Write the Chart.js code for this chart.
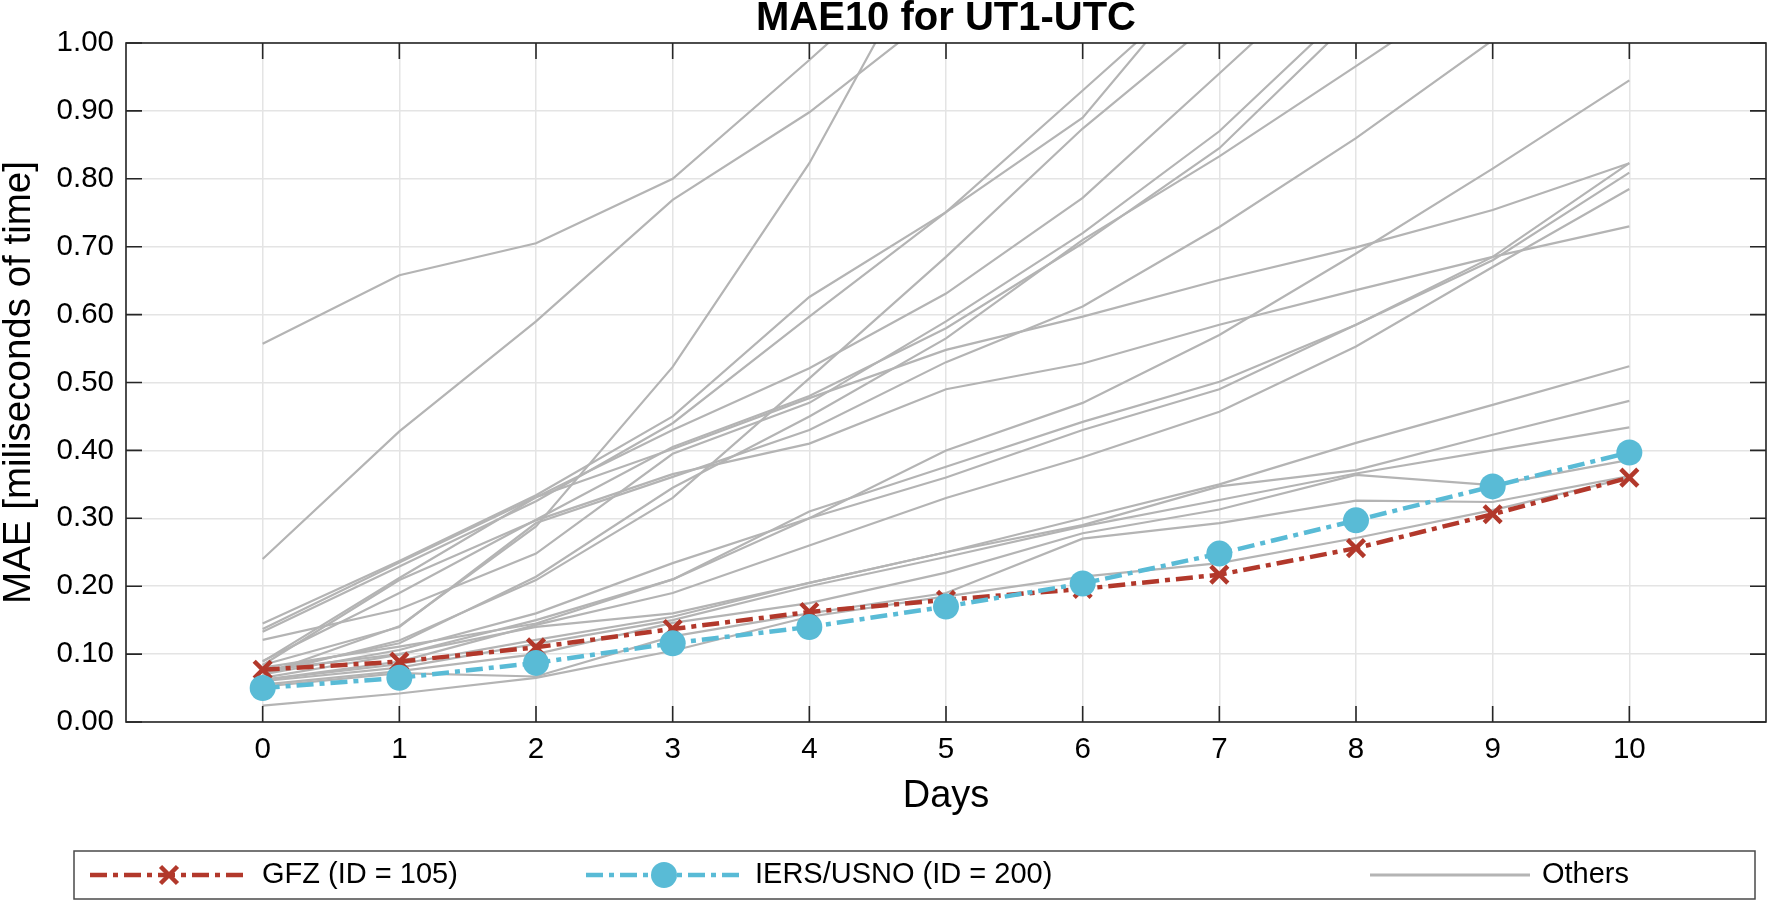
<!DOCTYPE html>
<html lang="en">
<head>
<meta charset="UTF-8">
<title>MAE10 for UT1-UTC</title>
<style>
  body { margin: 0; background: #ffffff; }
  #wrap { width: 1768px; height: 902px; }
</style>
<script src="https://cdn.jsdelivr.net/npm/chart.js"></script>
</head>
<body>
<div id="wrap"><canvas id="maeChart" width="1768" height="902"></canvas></div>
<script>
// forecast horizon (days) and the two highlighted centres
const days = [0, 1, 2, 3, 4, 5, 6, 7, 8, 9, 10];
const gfz  = [0.077, 0.089, 0.110, 0.137, 0.162, 0.180, 0.196, 0.217, 0.256, 0.306, 0.360];
const iers = [0.050, 0.065, 0.087, 0.116, 0.140, 0.170, 0.204, 0.248, 0.297, 0.347, 0.397];

// all the other centres (grey), > 1 means off the top
const others = [
  [0.557, 0.658, 0.705, 0.800, 0.975, 1.155, 1.330, 1.500, 1.700, 1.900, 2.100],
  [0.240, 0.428, 0.590, 0.769, 0.898, 1.055, 1.200, 1.350, 1.500, 1.650, 1.800],
  [0.070, 0.141, 0.288, 0.523, 0.823, 1.190, 1.500, 1.800, 2.100, 2.400, 2.700],
  [0.145, 0.237, 0.334, 0.450, 0.626, 0.751, 0.930, 1.110, 1.300, 1.500, 1.700],
  [0.133, 0.229, 0.325, 0.440, 0.597, 0.751, 0.890, 1.130, 1.300, 1.500, 1.700],
  [0.070, 0.120, 0.209, 0.330, 0.506, 0.685, 0.874, 1.040, 1.200, 1.400, 1.600],
  [0.137, 0.235, 0.331, 0.430, 0.521, 0.631, 0.772, 0.955, 1.140, 1.300, 1.500],
  [0.121, 0.166, 0.248, 0.395, 0.470, 0.590, 0.720, 0.870, 1.060, 1.250, 1.400],
  [0.090, 0.190, 0.298, 0.405, 0.480, 0.580, 0.705, 0.845, 1.040, 1.200, 1.400],
  [0.075, 0.116, 0.214, 0.345, 0.450, 0.565, 0.710, 0.833, 0.966, 1.100, 1.250],
  [0.084, 0.140, 0.293, 0.361, 0.430, 0.530, 0.612, 0.729, 0.860, 1.004, 1.150],
  [0.070, 0.106, 0.160, 0.234, 0.300, 0.400, 0.470, 0.570, 0.690, 0.815, 0.945],
  [0.089, 0.212, 0.331, 0.402, 0.477, 0.548, 0.597, 0.651, 0.699, 0.754, 0.823],
  [0.065, 0.099, 0.150, 0.210, 0.300, 0.360, 0.430, 0.490, 0.585, 0.685, 0.823],
  [0.080, 0.111, 0.145, 0.210, 0.310, 0.376, 0.442, 0.501, 0.585, 0.680, 0.809],
  [0.062, 0.089, 0.143, 0.190, 0.260, 0.330, 0.390, 0.457, 0.553, 0.670, 0.785],
  [0.084, 0.209, 0.297, 0.365, 0.410, 0.490, 0.528, 0.585, 0.636, 0.685, 0.730],
  [0.076, 0.100, 0.140, 0.160, 0.205, 0.250, 0.300, 0.350, 0.411, 0.467, 0.524],
  [0.062, 0.085, 0.121, 0.155, 0.205, 0.250, 0.290, 0.347, 0.371, 0.423, 0.473],
  [0.060, 0.080, 0.115, 0.150, 0.200, 0.243, 0.288, 0.327, 0.366, 0.400, 0.434],
  [0.055, 0.075, 0.100, 0.146, 0.175, 0.220, 0.278, 0.313, 0.364, 0.349, 0.386],
  [0.052, 0.072, 0.067, 0.126, 0.160, 0.190, 0.270, 0.293, 0.326, 0.324, 0.362],
  [0.024, 0.042, 0.065, 0.105, 0.155, 0.185, 0.214, 0.234, 0.271, 0.312, 0.360]
];

const yTicks = [0, 0.1, 0.2, 0.3, 0.4, 0.5, 0.6, 0.7, 0.8, 0.9, 1.0];

const FONT = "'Liberation Sans', Arial, Helvetica, sans-serif";

const RED = '#b2382b';
const CYAN = '#59bbd6';
const GREY = '#b4b4b4';
const DASHDOT = [17, 6, 5, 6];

function toPoints(vals) {
  return days.map((d, i) => ({ x: d, y: vals[i] }));
}

const datasets = [];
datasets.push({
  label: 'IERS/USNO (ID = 200)',
  data: toPoints(iers),
  borderColor: CYAN, borderWidth: 4.5, borderDash: DASHDOT,
  pointStyle: 'circle', pointRadius: 13,
  pointBackgroundColor: CYAN, pointBorderColor: CYAN, pointBorderWidth: 0,
  order: 0
});
datasets.push({
  label: 'GFZ (ID = 105)',
  data: toPoints(gfz),
  borderColor: RED, borderWidth: 4.5, borderDash: DASHDOT,
  pointStyle: 'crossRot', pointRadius: 12,
  pointBorderColor: RED, pointBorderWidth: 4.5,
  order: 1
});
others.forEach((vals, k) => {
  datasets.push({
    label: 'Others ' + (k + 1),
    data: toPoints(vals),
    borderColor: GREY, borderWidth: 2.2,
    pointRadius: 0,
    order: 2
  });
});

// title centred over the plot box, not the whole canvas
const plotTitle = {
  id: 'plotTitle',
  afterDraw(chart) {
    const { ctx, chartArea: a } = chart;
    ctx.save();
    ctx.fillStyle = '#000';
    ctx.font = 'bold 40px ' + FONT;
    ctx.textAlign = 'center';
    ctx.textBaseline = 'middle';
    ctx.fillText('MAE10 for UT1-UTC', (a.left + a.right) / 2, 19);
    ctx.restore();
  }
};

// box + inward tick marks like the original axes
const frame = {
  id: 'frame',
  afterDatasetsDraw(chart) {
    const { ctx, chartArea: a, scales: { x, y } } = chart;
    ctx.save();
    ctx.strokeStyle = '#262626';
    ctx.lineWidth = 1.6;
    ctx.strokeRect(a.left, a.top, a.right - a.left, a.bottom - a.top);
    ctx.beginPath();
    yTicks.forEach(v => {
      const py = y.getPixelForValue(v);
      ctx.moveTo(a.left, py); ctx.lineTo(a.left + 16, py);
      ctx.moveTo(a.right, py); ctx.lineTo(a.right - 16, py);
    });
    days.forEach(d => {
      const px = x.getPixelForValue(d);
      ctx.moveTo(px, a.bottom); ctx.lineTo(px, a.bottom - 16);
      ctx.moveTo(px, a.top); ctx.lineTo(px, a.top + 16);
    });
    ctx.stroke();
    ctx.restore();
  }
};

// legend in a long box under the axes
const legendBox = {
  id: 'legendBox',
  afterDraw(chart) {
    const ctx = chart.ctx;
    const cy = 875;
    ctx.save();
    ctx.strokeStyle = '#4a4a4a';
    ctx.lineWidth = 1.5;
    ctx.strokeRect(74, 851, 1681, 48);

    const items = [
      { x0: 90, x1: 248, ds: chart.data.datasets[1], text: 'GFZ (ID = 105)', tx: 262 },
      { x0: 586, x1: 742, ds: chart.data.datasets[0], text: 'IERS/USNO (ID = 200)', tx: 755 },
      { x0: 1370, x1: 1530, ds: chart.data.datasets[2], text: 'Others', tx: 1542, plain: true }
    ];
    items.forEach(it => {
      ctx.save();
      ctx.strokeStyle = it.ds.borderColor;
      ctx.lineWidth = it.plain ? 3 : 4.5;
      ctx.setLineDash(it.plain ? [] : DASHDOT);
      ctx.beginPath();
      ctx.moveTo(it.x0, cy); ctx.lineTo(it.x1, cy);
      ctx.stroke();
      ctx.restore();
      if (!it.plain) {
        ctx.save();
        ctx.fillStyle = it.ds.pointBackgroundColor || it.ds.borderColor;
        ctx.strokeStyle = it.ds.pointBorderColor;
        ctx.lineWidth = it.ds.pointBorderWidth;
        Chart.helpers.drawPoint(ctx, {
          pointStyle: it.ds.pointStyle,
          radius: it.ds.pointRadius,
          rotation: 0,
          borderWidth: it.ds.pointBorderWidth
        }, (it.x0 + it.x1) / 2, cy);
        ctx.restore();
      }
      ctx.fillStyle = '#000';
      ctx.font = '29px ' + FONT;
      ctx.textBaseline = 'middle';
      ctx.textAlign = 'left';
      ctx.fillText(it.text, it.tx, cy);
    });
    ctx.restore();
  }
};

Chart.defaults.font.family = FONT;
Chart.defaults.color = '#000';

new Chart(document.getElementById('maeChart'), {
  type: 'line',
  data: { datasets },
  options: {
    responsive: false,
    devicePixelRatio: 1,
    animation: false,
    layout: { autoPadding: false, padding: { left: 0, right: 2, top: 43, bottom: 80 } },
    elements: { line: { tension: 0 } },
    plugins: {
      legend: { display: false },
      tooltip: { enabled: false },
      title: { display: false }
    },
    scales: {
      x: {
        type: 'linear',
        min: -1, max: 11,
        border: { display: false },
        grid: { color: '#e4e4e4', lineWidth: 1.5, drawTicks: false },
        ticks: {
          stepSize: 1,
          padding: 10,
          font: { size: 29.5 },
          callback: v => (v < 0 || v > 10) ? '' : v
        },
        title: {
          display: true,
          text: 'Days',
          font: { size: 38, lineHeight: 1 },
          padding: { top: 0, bottom: 6 }
        },
        afterFit(scale) {
          scale.height = 100;
          scale.paddingLeft = 0;
          scale.paddingRight = 0;
        }
      },
      y: {
        min: 0, max: 1,
        border: { display: false },
        grid: { color: '#e4e4e4', lineWidth: 1.5, drawTicks: false },
        ticks: {
          stepSize: 0.1,
          padding: 12,
          font: { size: 29.5 },
          callback: v => v.toFixed(2)
        },
        title: {
          display: true,
          text: 'MAE [miliseconds of time]',
          font: { size: 38.5, lineHeight: 1 },
          padding: { top: 0, bottom: 0 }
        },
        afterFit(scale) {
          scale.width = 126;
          scale.paddingTop = 0;
          scale.paddingBottom = 0;
        }
      }
    }
  },
  plugins: [frame, plotTitle, legendBox]
});
</script>
</body>
</html>
